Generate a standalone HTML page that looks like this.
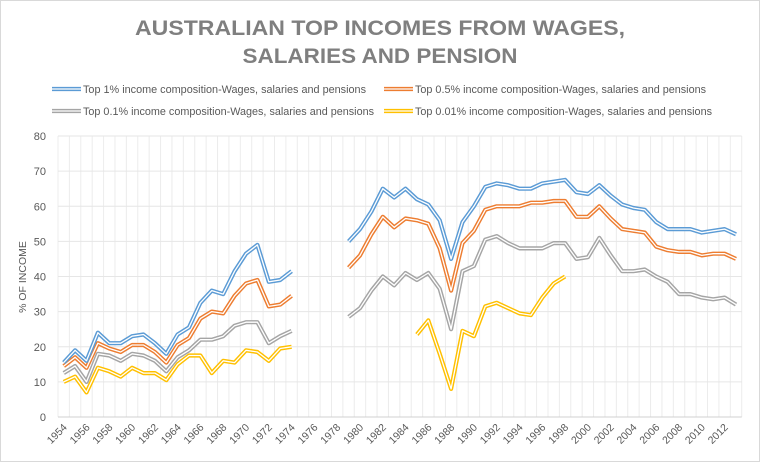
<!DOCTYPE html>
<html><head><meta charset="utf-8"><style>
html,body{margin:0;padding:0;background:#fff;}
svg{display:block;font-family:"Liberation Sans",sans-serif;}
</style></head><body>
<svg id="s" width="760" height="462" viewBox="0 0 760 462" xmlns="http://www.w3.org/2000/svg">
<rect x="0.5" y="0.5" width="759" height="461" fill="#fff" stroke="#d9d9d9"/>
<text x="380" y="35" text-anchor="middle" font-size="21" font-weight="bold" fill="#7f7f7f" textLength="490" lengthAdjust="spacingAndGlyphs">AUSTRALIAN TOP INCOMES FROM WAGES,</text>
<text x="380" y="63" text-anchor="middle" font-size="21" font-weight="bold" fill="#7f7f7f" textLength="275" lengthAdjust="spacingAndGlyphs">SALARIES AND PENSION</text>
<g id="legend" font-size="11" fill="#595959"></g>
<g id="grid"></g>
<g id="lines"></g>
<g id="labels" font-size="11" fill="#595959"></g>
</svg>
<script>
const NS="http://www.w3.org/2000/svg";
function el(p,t,a,txt){const e=document.createElementNS(NS,t);for(const k in a)e.setAttribute(k,a[k]);if(txt!==undefined)e.textContent=txt;p.appendChild(e);return e;}
const L=58,R=741.7,Y0=417,Y80=136,N=60,cw=(R-L)/N;
const yv=v=>Y0-(Y0-Y80)*v/80, xc=i=>L+(i+0.5)*cw;
const g=document.getElementById('grid'),lb=document.getElementById('labels'),ln=document.getElementById('lines'),lg=document.getElementById('legend');
for(let i=0;i<=N;i++){const x=L+i*cw;el(g,'line',{x1:x,x2:x,y1:Y80,y2:Y0,stroke:'#ececec','stroke-width':1});}
for(let v=0;v<=80;v+=10){const y=yv(v);el(g,'line',{x1:L,x2:R,y1:y,y2:y,stroke:v==0?'#d0d0d0':'#e6e6e6','stroke-width':1});
el(lb,'text',{x:46,y:y+4,'text-anchor':'end'},String(v));}
el(lb,'text',{x:26,y:277,'text-anchor':'middle',transform:'rotate(-90 26 277)','font-size':'10.5'},'% OF INCOME');
for(let i=0;i<N;i+=2){const x=xc(i)+4,y=428;el(lb,'text',{x:x,y:y,'text-anchor':'end',transform:`rotate(-45 ${x} ${y})`,'font-size':'10.5'},String(1954+i));}
const n=null;
const early=[[15.5,19,16,24,21,21,23,23.5,21,18,23.5,25.5,32.5,36,35,41.5,46.5,49,38.5,39,41.5],
[14.5,17,14,21,19.5,18.5,20.5,20.5,18.5,15.5,20.5,22.5,28,30,29.5,34.5,38,39,31.5,32,34.5],
[12.5,14.5,10,18,17.5,16,18,17.5,16,13,17,19,22,22,23,26,27,27,21,23,24.5],
[10,11.5,7,14,13,11.5,14,12.5,12.5,10.5,15,17.5,17.5,12.5,16,15.5,19,18.5,16,19.5,20]];
const late=[[50,53.5,58.5,65,62.5,65,62,60.5,56,45,55.5,60,65.5,66.5,66,65,65,66.5,67,67.5,64,63.5,66,63,60.5,59.5,59,55.5,53.5,53.5,53.5,52.5,53,53.5,52],
[42.5,46,52,57,54,56.5,56,55,48,36,49.5,53,59,60,60,60,61,61,61.5,61.5,57,57,60,56.5,53.5,53,52.5,48.5,47.5,47,47,46,46.5,46.5,45],
[28.5,31,36,40,37.5,41,39,41,36.5,25,41.5,43,50.5,51.5,49.5,48,48,48,49.5,49.5,45,45.5,51,46,41.5,41.5,42,40,38.5,35,35,34,33.5,34,32],
[n,n,n,n,n,n,23.5,27.5,18,8,24.5,23,31.5,32.5,31,29.5,29,34,38,40]];
const cols=['#5B9BD5','#ED7D31','#A5A5A5','#FFC000'];
function draw(vals,start,c){let pts=[];vals.forEach((v,k)=>{if(v!==null)pts.push(xc(start+k).toFixed(1)+','+yv(v).toFixed(1));});
const d='M'+pts.join('L');el(ln,'path',{d:d,fill:'none',stroke:c,'stroke-width':4.2,'stroke-linejoin':'round'});
el(ln,'path',{d:d,fill:'none',stroke:'#fff','stroke-width':1.3,'stroke-linejoin':'round'});}
for(let s=3;s>=0;s--){draw(early[s],0,cols[s]);draw(late[s],25,cols[s]);}
const leg=[[52,89,'Top 1%  income composition-Wages, salaries and pensions',283],[384,89,'Top 0.5%  income composition-Wages, salaries and pensions',291],
[52,111,'Top 0.1%  income composition-Wages, salaries and pensions',291],[384,111,'Top 0.01%  income composition-Wages, salaries and pensions',297]];
leg.forEach((o,i)=>{const [x,y,t,w]=o;el(lg,'line',{x1:x,x2:x+29,y1:y,y2:y,stroke:cols[i],'stroke-width':4.2});el(lg,'line',{x1:x,x2:x+29,y1:y,y2:y,stroke:'#fff','stroke-width':1.3});
el(lg,'text',{x:x+31,y:y+4,textLength:w,lengthAdjust:'spacingAndGlyphs'},t);});
</script>
</body></html>
